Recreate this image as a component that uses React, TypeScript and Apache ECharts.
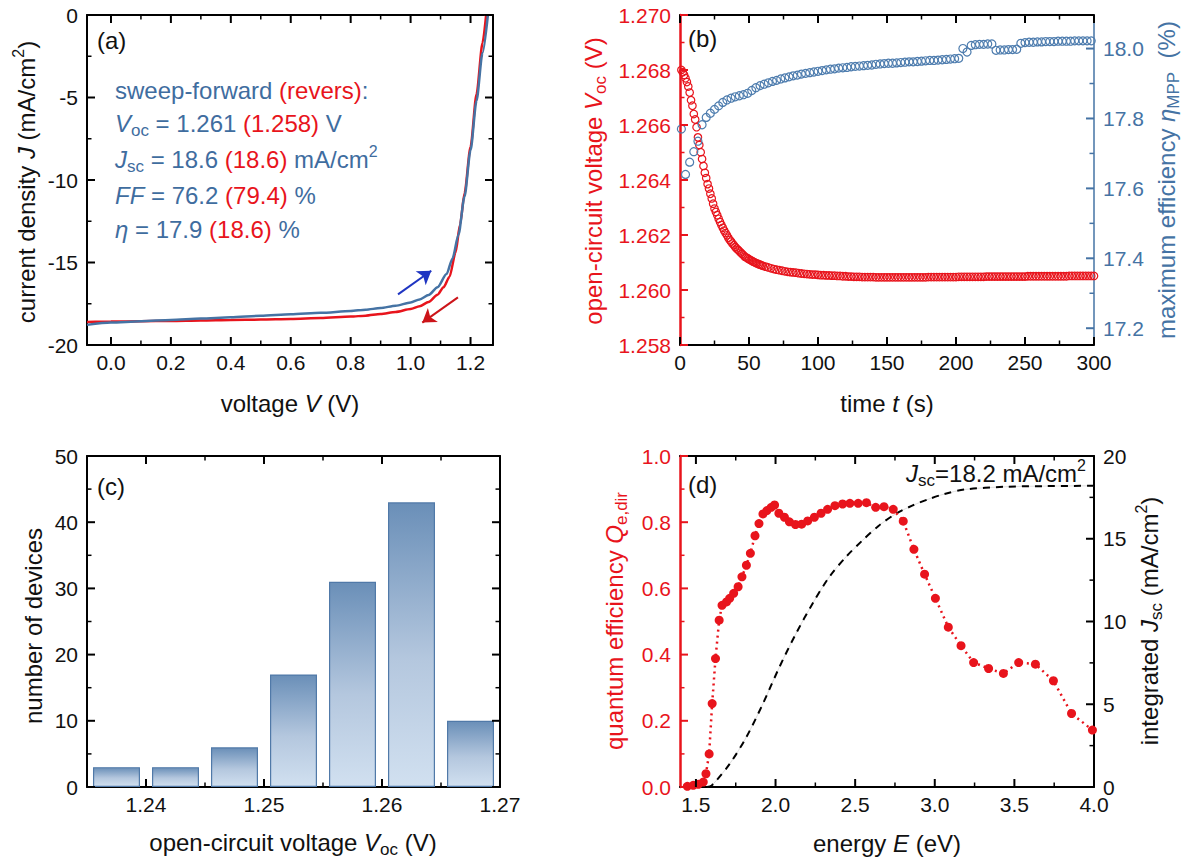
import React, { useEffect, useRef } from "react";
import * as echarts from "echarts";

const FONT = "'Liberation Sans', Arial, Helvetica, sans-serif";
const RED = "#e8141c";
const BLUE = "#4573a4";
const TEXT_BLUE = "#3f6d9f";
const BLACK = "#111111";
const ARROW_BLUE = "#1f35c2";
const ARROW_RED = "#cc1419";

// ---------- (a) J-V curves ----------
const vForward = [-0.08, 0, 0.1, 0.2, 0.3, 0.4, 0.5, 0.6, 0.7, 0.8, 0.85, 0.9, 0.95, 1.0, 1.03, 1.06, 1.09, 1.12, 1.14, 1.16, 1.18, 1.2, 1.22, 1.24, 1.258];
const jForward = [-18.78, -18.64, -18.56, -18.48, -18.4, -18.32, -18.23, -18.14, -18.05, -17.94, -17.86, -17.76, -17.62, -17.42, -17.24, -16.97, -16.5, -15.7, -14.75, -13.3, -11.0, -8.2, -5.2, -2.3, 0];
const vReverse = [-0.08, 0, 0.1, 0.2, 0.3, 0.4, 0.5, 0.6, 0.7, 0.8, 0.85, 0.9, 0.95, 1.0, 1.03, 1.06, 1.09, 1.11, 1.13, 1.15, 1.165, 1.18, 1.2, 1.22, 1.24, 1.252];
const jReverse = [-18.6, -18.58, -18.56, -18.54, -18.51, -18.48, -18.46, -18.43, -18.37, -18.28, -18.22, -18.12, -18.0, -17.82, -17.65, -17.4, -16.95, -16.5, -15.86, -14.4, -12.7, -10.8, -8.0, -4.8, -1.7, 0];
const arrowForward = [[0.958, -16.93], [1.069, -15.5]];
const arrowReverse = [[1.158, -17.11], [1.039, -18.64]];
const aXTicks = [0, 0.2, 0.4, 0.6, 0.8, 1.0, 1.2];
const aXMinor = [0.1, 0.3, 0.5, 0.7, 0.9, 1.1];
const aYTicks = [-20, -15, -10, -5, 0];
const aYMinor = [-17.5, -12.5, -7.5, -2.5];

// ---------- (b) transients ----------
// Voc: every 1 s for t = 1..60 s, then every 2 s for t = 62..300 s
const vocValues = [
  1.268, 1.26792, 1.26782, 1.2677, 1.26756, 1.2674, 1.26718, 1.2669, 1.2667, 1.2664,
  1.2662, 1.26592, 1.26555, 1.26527, 1.26501, 1.26476, 1.26451, 1.26426, 1.26407, 1.26385,
  1.26369, 1.2635, 1.26333, 1.26314, 1.26296, 1.26284, 1.26272, 1.26259, 1.26247, 1.26236,
  1.26226, 1.26216, 1.26207, 1.26199, 1.2619, 1.26182, 1.26176, 1.26169, 1.26163, 1.26156,
  1.26151, 1.26146, 1.26141, 1.26136, 1.26131, 1.26126, 1.26121, 1.26118, 1.26115, 1.26112,
  1.26109, 1.26106, 1.26103, 1.26101, 1.26098, 1.26096, 1.26094, 1.26092, 1.2609, 1.26088,
  1.26085, 1.26082, 1.26079, 1.26076, 1.26074, 1.26072, 1.2607, 1.26068, 1.26066, 1.26065,
  1.26064, 1.26063, 1.26061, 1.2606, 1.26059, 1.26058, 1.26057, 1.26056, 1.26056, 1.26055,
  1.26054, 1.26054, 1.26053, 1.26053, 1.26052, 1.26052, 1.26051, 1.26051, 1.2605, 1.2605,
  1.26049, 1.26049, 1.26048, 1.26048, 1.26048, 1.26047, 1.26047, 1.26047, 1.26047, 1.26047,
  1.26046, 1.26046, 1.26046, 1.26046, 1.26046, 1.26046, 1.26046, 1.26046, 1.26046, 1.26046,
  1.26046, 1.26046, 1.26046, 1.26046, 1.26046, 1.26046, 1.26046, 1.26046, 1.26046, 1.26047,
  1.26047, 1.26047, 1.26047, 1.26047, 1.26047, 1.26047, 1.26047, 1.26047, 1.26047, 1.26047,
  1.26048, 1.26048, 1.26048, 1.26048, 1.26048, 1.26048, 1.26048, 1.26048, 1.26048, 1.26048,
  1.26049, 1.26049, 1.26049, 1.26049, 1.26049, 1.26049, 1.26049, 1.26049, 1.26049, 1.26049,
  1.26049, 1.26049, 1.26049, 1.26049, 1.26049, 1.2605, 1.2605, 1.2605, 1.2605, 1.2605,
  1.2605, 1.2605, 1.2605, 1.2605, 1.2605, 1.2605, 1.2605, 1.2605, 1.2605, 1.2605,
  1.26051, 1.26051, 1.26051, 1.26051, 1.26051, 1.26051, 1.26051, 1.26051, 1.26051, 1.26051,
];
const vocDenseCount = 60; // first samples taken every 1 s from t = 1 s, then every 2 s
// maximum efficiency sampled every 3 s from t = 1 s
const effValues = [
  17.77, 17.64, 17.675, 17.705, 17.735, 17.782, 17.803, 17.815, 17.826, 17.836,
  17.846, 17.853, 17.858, 17.862, 17.865, 17.868, 17.872, 17.88, 17.888, 17.894,
  17.898, 17.902, 17.906, 17.909, 17.913, 17.916, 17.919, 17.922, 17.924, 17.927,
  17.929, 17.931, 17.933, 17.935, 17.937, 17.939, 17.941, 17.942, 17.944, 17.945,
  17.946, 17.948, 17.949, 17.95, 17.951, 17.952, 17.953, 17.955, 17.956, 17.957,
  17.958, 17.958, 17.959, 17.96, 17.961, 17.962, 17.962, 17.963, 17.964, 17.965,
  17.966, 17.966, 17.967, 17.968, 17.969, 17.97, 17.971, 17.972, 18.0, 17.99,
  18.009, 18.011, 18.012, 18.012, 18.013, 18.013, 17.995, 17.996, 17.996, 17.997,
  17.997, 17.998, 18.015, 18.017, 18.018, 18.018, 18.019, 18.019, 18.02, 18.02,
  18.02, 18.021, 18.021, 18.021, 18.021, 18.022, 18.022, 18.022, 18.022, 18.022,
];
const effStart = 1;
const effStep = 3;
const bXTicks = [0, 50, 100, 150, 200, 250, 300];
const bXMinor = [25, 75, 125, 175, 225, 275];
const bYLeftTicks = [1.258, 1.26, 1.262, 1.264, 1.266, 1.268, 1.27];
const bYLeftMinor = [1.259, 1.261, 1.263, 1.265, 1.267, 1.269];
const bYRightTicks = [17.2, 17.4, 17.6, 17.8, 18.0];
const bYRightMinor = [17.3, 17.5, 17.7, 17.9];

// ---------- (c) histogram ----------
const binCenters = [1.2375, 1.2425, 1.2475, 1.2525, 1.2575, 1.2625, 1.2675];
const deviceCounts = [3, 3, 6, 17, 31, 43, 10];
const cXTicks = [1.24, 1.25, 1.26, 1.27];
const cXMinor = [1.245, 1.255, 1.265];
const cYTicks = [0, 10, 20, 30, 40, 50];
const cYMinor = [5, 15, 25, 35, 45];

// ---------- (d) quantum efficiency ----------
const qeEnergy = [1.446, 1.483, 1.515, 1.546, 1.563, 1.583, 1.602, 1.623, 1.646, 1.664, 1.692, 1.712, 1.737, 1.765, 1.789, 1.817, 1.842, 1.871, 1.896, 1.921, 1.946, 1.973, 1.994, 2.021, 2.056, 2.087, 2.125, 2.164, 2.202, 2.244, 2.286, 2.327, 2.373, 2.421, 2.467, 2.519, 2.571, 2.629, 2.681, 2.739, 2.802, 2.869, 2.936, 3.004, 3.085, 3.165, 3.244, 3.338, 3.431, 3.527, 3.632, 3.745, 3.859, 3.99];
const qeValues = [0.002, 0.005, 0.008, 0.015, 0.04, 0.1, 0.252, 0.388, 0.504, 0.549, 0.559, 0.57, 0.585, 0.605, 0.635, 0.67, 0.706, 0.759, 0.796, 0.825, 0.835, 0.845, 0.852, 0.827, 0.815, 0.801, 0.793, 0.794, 0.804, 0.815, 0.827, 0.839, 0.85, 0.855, 0.857, 0.857, 0.859, 0.845, 0.847, 0.839, 0.803, 0.718, 0.643, 0.57, 0.483, 0.427, 0.376, 0.358, 0.343, 0.376, 0.371, 0.321, 0.222, 0.172];
const jscEnergy = [1.57, 1.6, 1.713, 1.817, 1.921, 2.025, 2.129, 2.233, 2.338, 2.442, 2.546, 2.65, 2.754, 2.858, 2.963, 3.06, 3.19, 3.44, 3.68, 4.0];
const jscValues = [0, 0.1, 1.41, 3.02, 5.04, 7.26, 9.28, 11.09, 12.7, 13.9, 14.9, 15.8, 16.5, 17.0, 17.4, 17.7, 17.98, 18.14, 18.18, 18.2];
const dXTicks = [1.5, 2.0, 2.5, 3.0, 3.5, 4.0];
const dXMinor = [1.75, 2.25, 2.75, 3.25, 3.75];
const dYLeftTicks = [0, 0.2, 0.4, 0.6, 0.8, 1.0];
const dYLeftMinor = [0.1, 0.3, 0.5, 0.7, 0.9];
const dYRightTicks = [0, 5, 10, 15, 20];
const dYRightMinor = [2.5, 7.5, 12.5, 17.5];

type Side = {
  min: number;
  max: number;
  ticks: number[];
  color: string;
  lineWidth?: number;
  fmt?: (v: number) => string;
  labelColor?: string;
};

function axis(gridIndex: number, position: string, s: Side, withLabels: boolean, isX: boolean) {
  return {
    type: "value",
    gridIndex,
    position,
    min: s.min,
    max: s.max,
    splitLine: { show: false },
    minorTick: { show: false },
    minorSplitLine: { show: false },
    axisPointer: { show: false },
    silent: true,
    axisLine: { show: true, onZero: false, lineStyle: { color: s.color, width: s.lineWidth ?? 2 } },
    axisTick: { show: false },
    axisLabel: withLabels
      ? {
          show: true,
          customValues: s.ticks,
          formatter: (v: number) => (s.fmt ? s.fmt(v) : String(v)),
          color: s.labelColor ?? BLACK,
          fontSize: 21,
          fontFamily: FONT,
          margin: isX ? 7 : 9,
        }
      : { show: false },
  };
}

// Tick marks drawn through the axes' own scales (api.coord), pointing into the plot
type TickOpts = {
  xAxisIndex: number;
  yAxisIndex: number;
  xRef: number;
  yRef: number;
  xMajor?: number[];
  xMinor?: number[];
  yMajor?: number[];
  yMinor?: number[];
  xColor?: string;
  yColor?: string;
  ySides?: string[];
};

function tickSeries(o: TickOpts) {
  const data: number[][] = [
    ...(o.xMajor ?? []).map((v) => [v, 0]),
    ...(o.xMinor ?? []).map((v) => [v, 1]),
    ...(o.yMajor ?? []).map((v) => [v, 2]),
    ...(o.yMinor ?? []).map((v) => [v, 3]),
  ];
  const sides = o.ySides ?? ["left", "right"];
  return {
    type: "custom",
    xAxisIndex: o.xAxisIndex,
    yAxisIndex: o.yAxisIndex,
    silent: true,
    clip: false,
    z: 6,
    data,
    renderItem: (params: any, api: any) => {
      const v = api.value(0);
      const kind = api.value(1);
      const cs = params.coordSys;
      const major = kind === 0 || kind === 2;
      const len = major ? 8 : 4.5;
      const w = major ? 2 : 1.5;
      const children: any[] = [];
      const seg = (x1: number, y1: number, x2: number, y2: number, c: string) => ({
        type: "line",
        shape: { x1, y1, x2, y2 },
        style: { stroke: c, lineWidth: w },
      });
      if (kind < 2) {
        const px = api.coord([v, o.yRef])[0];
        const c = o.xColor ?? "#000";
        const bottom = cs.y + cs.height;
        children.push(seg(px, bottom, px, bottom - len, c));
        children.push(seg(px, cs.y, px, cs.y + len, c));
      } else {
        const py = api.coord([o.xRef, v])[1];
        const c = o.yColor ?? "#000";
        if (sides.includes("left")) children.push(seg(cs.x, py, cs.x + len, py, c));
        if (sides.includes("right")) children.push(seg(cs.x + cs.width, py, cs.x + cs.width - len, py, c));
      }
      return { type: "group", children };
    },
  };
}

const f1 = (v: number) => v.toFixed(1);
const f2 = (v: number) => v.toFixed(2);
const f3 = (v: number) => v.toFixed(3);
const f0 = (v: number) => String(Math.round(v));

const aX: Side = { min: -0.08, max: 1.275, ticks: aXTicks, color: "#000", fmt: f1 };
const aY: Side = { min: -20, max: 0, ticks: aYTicks, color: "#000", fmt: f0 };
const bX: Side = { min: 0, max: 300, ticks: bXTicks, color: "#000", fmt: f0 };
const bYL: Side = { min: 1.258, max: 1.27, ticks: bYLeftTicks, color: RED, lineWidth: 2.5, fmt: f3, labelColor: RED };
const bYR: Side = { min: 17.152, max: 18.096, ticks: bYRightTicks, color: BLUE, lineWidth: 1.5, fmt: f1, labelColor: BLUE };
const cX: Side = { min: 1.235, max: 1.27, ticks: cXTicks, color: "#000", fmt: f2 };
const cY: Side = { min: 0, max: 50, ticks: cYTicks, color: "#000", fmt: f0 };
const dX: Side = { min: 1.4, max: 4.0, ticks: dXTicks, color: "#000", fmt: f1 };
const dYL: Side = { min: 0, max: 1, ticks: dYLeftTicks, color: RED, lineWidth: 2.5, fmt: f1, labelColor: RED };
const dYR: Side = { min: 0, max: 20, ticks: dYRightTicks, color: "#000", fmt: f0 };

const richOf = (c: string) => ({
  n: { fill: c, fontSize: 24, fontFamily: FONT, lineHeight: 32 },
  i: { fill: c, fontSize: 24, fontFamily: FONT, fontStyle: "italic", lineHeight: 32 },
  s: { fill: c, fontSize: 17, fontFamily: FONT, lineHeight: 18, verticalAlign: "bottom" },
  p: { fill: c, fontSize: 16, fontFamily: FONT, lineHeight: 22, verticalAlign: "top" },
  r: { fill: RED, fontSize: 24, fontFamily: FONT, lineHeight: 32 },
});

function label(x: number, y: number, text: string, color: string, align = "center", rotation = 0) {
  return {
    type: "text",
    x,
    y,
    rotation,
    silent: true,
    z: 100,
    style: {
      text,
      rich: richOf(color),
      fill: color,
      fontSize: 24,
      fontFamily: FONT,
      lineHeight: 32,
      align,
      verticalAlign: "middle",
    },
  };
}

const R90 = Math.PI / 2;

function buildOption(): any {
  const grids = [
    { left: 87, top: 15, width: 406, height: 330 },
    { left: 680, top: 15, width: 414, height: 330 },
    { left: 87, top: 456, width: 413, height: 331 },
    { left: 680, top: 456, width: 414, height: 331 },
  ].map((g) => ({ ...g, containLabel: false, outerBoundsMode: "none" }));

  // grid g: xAxis 2g (bottom), 2g+1 (top); yAxis 2g (left), 2g+1 (right)
  const xAxis = [
    axis(0, "bottom", aX, true, true), axis(0, "top", aX, false, true),
    axis(1, "bottom", bX, true, true), axis(1, "top", bX, false, true),
    axis(2, "bottom", cX, true, true), axis(2, "top", cX, false, true),
    axis(3, "bottom", dX, true, true), axis(3, "top", dX, false, true),
  ];
  const yAxis = [
    axis(0, "left", aY, true, false), axis(0, "right", aY, false, false),
    axis(1, "left", bYL, true, false), axis(1, "right", bYR, true, false),
    axis(2, "left", cY, true, false), axis(2, "right", cY, false, false),
    axis(3, "left", dYL, true, false), axis(3, "right", dYR, true, false),
  ];

  const barGradient = new echarts.graphic.LinearGradient(0, 0, 0, 1, [
    { offset: 0, color: "#6a8fb8" },
    { offset: 0.55, color: "#b4c7de" },
    { offset: 1, color: "#d1e0f0" },
  ]);

  const vocTime = (i: number) => (i < vocDenseCount ? i + 1 : vocDenseCount + 2 * (i - vocDenseCount + 1));

  const series: any[] = [
    {
      type: "line",
      name: "forward",
      xAxisIndex: 0,
      yAxisIndex: 0,
      data: vForward.map((v, i) => [v, jForward[i]]),
      symbol: "none",
      smooth: 0.25,
      smoothMonotone: "x",
      lineStyle: { color: BLUE, width: 2.5 },
      z: 3,
      markLine: {
        silent: true,
        symbol: ["none", "arrow"],
        symbolSize: 13,
        label: { show: false },
        lineStyle: { type: "solid", width: 2 },
        animation: false,
        data: [
          [
            { coord: arrowForward[0], lineStyle: { color: ARROW_BLUE, type: "solid", width: 2 } },
            { coord: arrowForward[1], lineStyle: { color: ARROW_BLUE, type: "solid", width: 2 } },
          ],
          [
            { coord: arrowReverse[0], lineStyle: { color: ARROW_RED, type: "solid", width: 2 } },
            { coord: arrowReverse[1], lineStyle: { color: ARROW_RED, type: "solid", width: 2 } },
          ],
        ],
      },
    },
    {
      type: "line",
      name: "reverse",
      xAxisIndex: 0,
      yAxisIndex: 0,
      data: vReverse.map((v, i) => [v, jReverse[i]]),
      symbol: "none",
      smooth: 0.25,
      smoothMonotone: "x",
      lineStyle: { color: RED, width: 2.5 },
      z: 2,
    },
    {
      type: "scatter",
      name: "Voc",
      xAxisIndex: 2,
      yAxisIndex: 2,
      data: vocValues.map((v, i) => [vocTime(i), v]),
      symbol: "circle",
      symbolSize: 7.5,
      itemStyle: { color: "rgba(255,255,255,0)", borderColor: RED, borderWidth: 1.2, opacity: 1 },
    },
    {
      type: "scatter",
      name: "eta",
      xAxisIndex: 2,
      yAxisIndex: 3,
      data: effValues.map((v, i) => [effStart + effStep * i, v]),
      symbol: "circle",
      symbolSize: 8,
      itemStyle: { color: "rgba(255,255,255,0)", borderColor: "#4d7cae", borderWidth: 1.2, opacity: 1 },
    },
    {
      type: "bar",
      name: "devices",
      xAxisIndex: 4,
      yAxisIndex: 4,
      data: binCenters.map((c, i) => [c, deviceCounts[i]]),
      barWidth: 47,
      itemStyle: { color: barGradient, borderColor: "#5079a8", borderWidth: 1.2 },
    },
    {
      type: "line",
      name: "jscGuide",
      xAxisIndex: 6,
      yAxisIndex: 7,
      data: jscEnergy.map((e, i) => [e, jscValues[i]]),
      symbol: "none",
      smooth: 0.3,
      lineStyle: { color: "#dedede", width: 1 },
    },
    {
      type: "line",
      name: "jsc",
      xAxisIndex: 6,
      yAxisIndex: 7,
      data: jscEnergy.map((e, i) => [e, jscValues[i]]),
      symbol: "none",
      smooth: 0.3,
      lineStyle: { color: "#000", width: 2, type: [7, 6] },
    },
    {
      type: "line",
      name: "qe",
      xAxisIndex: 6,
      yAxisIndex: 6,
      data: qeEnergy.map((e, i) => [e, qeValues[i]]),
      symbol: "circle",
      symbolSize: 9,
      showSymbol: true,
      lineStyle: { color: RED, width: 2.5, type: [2, 4] },
      itemStyle: { color: RED, borderWidth: 0 },
      z: 4,
    },
    // tick marks
    tickSeries({ xAxisIndex: 0, yAxisIndex: 0, xRef: aX.min, yRef: aY.min, xMajor: aXTicks, xMinor: aXMinor, yMajor: aYTicks, yMinor: aYMinor }),
    tickSeries({ xAxisIndex: 2, yAxisIndex: 2, xRef: bX.min, yRef: bYL.min, xMajor: bXTicks, xMinor: bXMinor, yMajor: bYLeftTicks, yMinor: bYLeftMinor, yColor: RED, ySides: ["left"] }),
    tickSeries({ xAxisIndex: 2, yAxisIndex: 3, xRef: bX.min, yRef: bYR.min, yMajor: bYRightTicks, yMinor: bYRightMinor, yColor: BLUE, ySides: ["right"] }),
    tickSeries({ xAxisIndex: 4, yAxisIndex: 4, xRef: cX.min, yRef: cY.min, xMajor: cXTicks, xMinor: cXMinor, yMajor: cYTicks, yMinor: cYMinor }),
    tickSeries({ xAxisIndex: 6, yAxisIndex: 6, xRef: dX.min, yRef: dYL.min, xMajor: dXTicks, xMinor: dXMinor, yMajor: dYLeftTicks, yMinor: dYLeftMinor, yColor: RED, ySides: ["left"] }),
    tickSeries({ xAxisIndex: 6, yAxisIndex: 7, xRef: dX.min, yRef: dYR.min, yMajor: dYRightTicks, yMinor: dYRightMinor, ySides: ["right"] }),
  ];

  const graphic = [
    label(97, 40, "{n|(a)}", BLACK, "left"),
    label(115, 90, "{n|sweep-forward }{r|(revers)}{n|:}", TEXT_BLUE, "left"),
    label(115, 123, "{i|V}{s|oc}{n| = 1.261 }{r|(1.258)}{n| V}", TEXT_BLUE, "left"),
    label(115, 159, "{i|J}{s|sc}{n| = 18.6 }{r|(18.6)}{n| mA/cm}{p|2}", TEXT_BLUE, "left"),
    label(115, 195, "{i|FF}{n| = 76.2 }{r|(79.4)}{n| %}", TEXT_BLUE, "left"),
    label(115, 229, "{i|η}{n| = 17.9 }{r|(18.6)}{n| %}", TEXT_BLUE, "left"),
    label(290, 403, "{n|voltage }{i|V}{n| (V)}", BLACK),
    label(26, 182, "{n|current density }{i|J}{n| (mA/cm}{p|2}{n|)}", BLACK, "center", R90),

    label(688, 38, "{n|(b)}", BLACK, "left"),
    label(887, 403, "{n|time }{i|t}{n| (s)}", BLACK),
    label(593, 181, "{n|open-circuit voltage }{i|V}{s|oc}{n| (V)}", RED, "center", R90),
    label(1166, 180, "{n|maximum efficiency }{i|η}{s|MPP}{n|  (%)}", BLUE, "center", R90),

    label(97, 486, "{n|(c)}", BLACK, "left"),
    label(293, 842, "{n|open-circuit voltage }{i|V}{s|oc}{n| (V)}", BLACK),
    label(33, 626, "{n|number of devices}", BLACK, "center", R90),

    label(688, 484, "{n|(d)}", BLACK, "left"),
    label(887, 843, "{n|energy }{i|E}{n| (eV)}", BLACK),
    label(614, 621, "{n|quantum efficiency }{i|Q}{s|e,dir}", RED, "center", R90),
    label(1149, 621, "{n|integrated }{i|J}{s|sc}{n| (mA/cm}{p|2}{n|)}", BLACK, "center", R90),
    label(1086, 473, "{i|J}{s|sc}{n|=18.2 mA/cm}{p|2}", BLACK, "right"),
  ];

  return {
    animation: false,
    backgroundColor: "#ffffff",
    textStyle: { fontFamily: FONT },
    grid: grids,
    xAxis,
    yAxis,
    series,
    graphic,
  };
}

export default function App() {
  const ref = useRef<HTMLDivElement>(null);
  useEffect(() => {
    if (!ref.current) return;
    const chart = echarts.init(ref.current, null, { renderer: "svg" });
    chart.setOption(buildOption());
    return () => chart.dispose();
  }, []);
  return (
    <div
      ref={ref}
      style={{ position: "fixed", left: 0, top: 0, width: 1184, height: 863, background: "#fff" }}
    />
  );
}
